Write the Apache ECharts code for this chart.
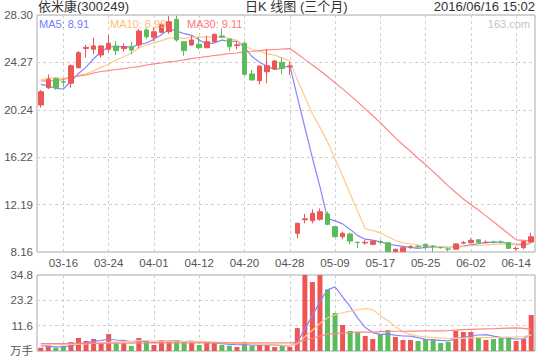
<!DOCTYPE html>
<html><head><meta charset="utf-8">
<script src="https://cdn.jsdelivr.net/npm/echarts@6/dist/echarts.min.js"></script>
<style>html,body{margin:0;padding:0;background:#fff}#c{width:540px;height:360px}</style>
</head><body><div id="c"></div><script>
const headerLeft = '依米康(300249)';
const headerMid = '日K 线图 (三个月)';
const headerRight = '2016/06/16 15:02';
const watermark = '163.com';
const maNames = ['MA5', 'MA10', 'MA30'];
const maLast = ['8.91', '8.99', '9.11'];
const volUnit = '万手';

const dates = ['03-11','03-14','03-15','03-16','03-17','03-18','03-21','03-22','03-23','03-24','03-25','03-28','03-29','03-30','03-31','04-01','04-05','04-06','04-07','04-08','04-11','04-12','04-13','04-14','04-15','04-18','04-19','04-20','04-21','04-22','04-25','04-26','04-27','04-28','04-29','05-03','05-04','05-05','05-06','05-09','05-10','05-11','05-12','05-13','05-16','05-17','05-18','05-19','05-20','05-23','05-24','05-25','05-26','05-27','05-30','05-31','06-01','06-02','06-03','06-06','06-07','06-08','06-13','06-14','06-15','06-16'];

// [open, close, low, high]
const candles = [
[20.65,21.78,20.42,21.93],[22.12,22.84,22.01,23.26],[22.88,22.12,21.93,22.97],[22.63,22.60,22.20,22.90],
[22.50,23.99,22.12,24.11],[23.82,25.10,23.77,25.24],[25.45,25.55,24.67,25.75],[25.39,25.67,24.96,26.37],
[24.90,25.67,24.67,25.70],[25.39,25.90,25.18,26.60],[25.67,25.27,24.90,26.09],[25.44,25.60,25.18,25.90],
[25.61,25.33,24.96,26.03],[25.75,26.94,25.47,27.11],[27.03,26.46,26.26,27.17],[26.40,26.88,26.09,27.22],
[26.83,27.51,26.74,27.73],[26.88,27.73,26.70,28.21],[27.93,26.18,26.03,28.25],[26.03,25.27,24.84,26.03],
[25.75,26.18,25.69,26.52],[25.81,25.52,25.35,26.46],[25.52,26.03,25.47,26.52],[26.03,26.66,25.92,26.66],
[26.52,26.42,26.32,27.17],[26.26,25.61,25.24,26.26],[25.70,25.77,25.39,26.09],[25.90,23.26,23.15,26.03],
[23.29,22.78,22.75,23.63],[22.72,23.97,22.41,23.97],[23.48,23.99,22.50,25.39],[23.71,24.39,23.63,24.48],
[24.28,23.77,23.26,24.70],[23.88,23.95,23.20,24.33],[9.75,10.60,9.32,10.65],[10.90,10.98,10.60,11.39],
[10.82,11.45,10.60,11.79],[10.94,11.58,10.82,11.87],[11.39,10.51,10.45,11.58],[10.31,9.46,9.41,10.31],
[9.46,9.75,9.24,9.89],[9.69,9.09,8.84,9.80],[8.99,8.96,8.47,8.99],[8.93,8.98,8.76,9.18],
[8.81,9.09,8.73,9.18],[9.05,9.00,8.84,9.18],[8.95,8.19,8.17,8.95],[8.19,8.39,8.17,8.45],
[8.19,8.53,8.17,8.58],[8.58,8.62,8.41,8.75],[8.64,8.60,8.45,8.78],[8.81,8.61,8.39,8.90],
[8.64,8.62,8.17,8.75],[8.55,8.52,8.45,8.60],[8.42,8.40,8.19,8.53],[8.40,8.85,8.38,8.88],
[8.92,8.95,8.81,9.09],[8.95,9.15,8.90,9.32],[9.20,8.95,8.92,9.25],[8.95,8.98,8.90,9.15],
[9.00,8.98,8.88,9.12],[9.00,8.98,8.88,9.15],[8.96,8.47,8.45,9.00],[8.45,8.47,8.28,8.62],
[8.53,9.05,8.39,9.10],[9.00,9.45,8.95,9.80]];

const ma5 = [22.41,22.27,22.07,22.01,22.67,23.33,23.87,24.58,25.20,25.58,25.61,25.62,25.55,25.81,25.92,26.24,26.62,27.10,26.95,26.71,26.57,26.18,25.84,25.93,26.16,26.05,26.10,25.54,24.77,24.28,23.95,23.68,23.78,24.01,21.34,18.74,16.15,13.71,11.02,10.80,10.55,10.08,9.55,9.25,9.17,9.02,8.84,8.73,8.64,8.55,8.47,8.55,8.60,8.59,8.55,8.60,8.67,8.77,8.86,8.98,9.00,9.01,8.87,8.78,8.79,8.88];
const ma10 = [22.78,22.92,22.97,22.92,22.97,23.15,23.30,23.55,23.85,24.12,24.47,24.75,25.07,25.50,25.75,25.93,26.12,26.33,26.38,26.32,26.41,26.40,26.47,26.44,26.44,26.31,26.14,25.69,25.35,25.22,25.00,24.89,24.66,24.39,22.81,21.35,19.91,18.75,17.52,16.07,14.64,13.11,11.63,10.14,9.99,9.79,9.46,9.14,8.94,8.86,8.75,8.70,8.66,8.62,8.55,8.53,8.61,8.69,8.73,8.76,8.80,8.84,8.82,8.82,8.88,8.94];
const ma30 = [22.69,22.71,22.73,22.82,22.99,23.12,23.20,23.37,23.50,23.58,23.67,23.75,23.84,23.92,24.05,24.14,24.22,24.31,24.39,24.48,24.60,24.69,24.77,24.86,24.94,25.03,25.07,25.16,25.20,25.28,25.33,25.37,25.41,25.45,25.00,24.53,24.06,23.59,23.08,22.54,22.02,21.47,20.92,20.32,19.74,19.15,18.50,17.86,17.27,16.72,16.13,15.57,14.99,14.38,13.78,13.22,12.66,12.19,11.73,11.23,10.73,10.22,9.71,9.19,9.14,9.09];

const volume = [1.5,2.4,1.5,2.4,4.1,5.95,4.58,5.5,3.66,7.78,3.66,3.66,2.29,5.95,5.04,2.75,5.04,4.58,5.04,4.12,4.12,2.75,3.66,3.66,2.75,2.4,1.83,4.12,2.4,2.75,2.75,1.83,2.3,1.83,10.5,34.8,31.6,34.8,28.2,17.4,11.9,9.16,8.7,6.87,5.5,7.78,9.6,6.4,5.04,5.04,4.58,5.5,5.5,3.66,4.12,9.16,8.7,8.7,5.95,5.04,5.5,5.95,6.41,4.58,5.5,16.5];
const volMa5 = [2.4,2.2,1.9,1.9,2.38,3.27,3.71,4.51,4.76,5.49,5.04,4.85,4.21,4.67,4.12,3.94,4.21,4.67,4.49,4.31,4.58,4.12,3.94,3.66,3.39,3.04,2.86,2.95,2.70,2.70,2.77,2.77,2.41,2.29,3.84,10.25,16.21,22.71,27.98,29.36,24.78,20.29,15.07,10.81,8.43,7.60,7.69,7.23,6.86,6.77,6.13,5.31,5.13,4.86,4.67,5.59,6.23,6.87,7.33,7.51,6.78,6.23,5.77,5.50,5.59,7.79];
const volMa10 = [3.2,3.2,3.1,3.0,3.0,3.1,3.3,3.5,3.7,3.94,4.15,4.28,4.36,4.71,4.81,4.49,4.53,4.44,4.58,4.21,4.26,4.17,4.31,4.08,3.85,3.81,3.49,3.45,3.18,3.04,2.91,2.82,2.68,2.50,3.27,6.51,9.49,12.56,15.14,16.60,17.52,18.25,18.89,19.39,18.89,16.19,13.99,11.15,8.84,7.60,6.87,6.50,6.18,5.86,5.72,5.86,5.77,6.00,6.09,6.09,6.18,6.23,6.32,6.41,6.55,7.28];
const volMa30 = [3.40,3.40,3.42,3.42,3.45,3.48,3.50,3.52,3.55,3.58,3.60,3.62,3.62,3.65,3.66,3.66,3.68,3.70,3.70,3.72,3.72,3.73,3.73,3.74,3.74,3.74,3.73,3.74,3.72,3.73,3.77,3.75,3.78,3.76,3.98,4.94,5.84,6.81,7.63,7.95,8.23,8.41,8.62,8.66,8.67,8.84,8.99,9.05,9.05,9.08,9.10,9.19,9.25,9.25,9.30,9.52,9.75,9.90,10.02,10.10,10.19,10.33,10.46,10.55,10.39,9.78];

const priceTicks = [8.16, 28.30];
const volTicks = [0, 34.8];

const UP = '#ee5555', DOWN = '#5cbc5c';
const C_MA5 = '#8585ff', C_MA10 = '#ffc98a', C_MA30 = '#ff8585';
const FONT = '"Liberation Sans", Arial, "Noto Sans CJK SC", sans-serif';
const isLabel = (i) => i >= 3 && (i - 3) % 6 === 0;
const dash = { color: '#cfcfcf', type: [3, 3], width: 1 };

const chart = echarts.init(document.getElementById('c'), null, { renderer: 'svg', width: 540, height: 360 });

const volData = volume.map((v, i) => ({
  value: v,
  itemStyle: { color: candles[i][1] >= candles[i][0] ? UP : DOWN }
}));

const lineS = (name, data, color, xi) => ({
  name, type: 'line', data, xAxisIndex: xi, yAxisIndex: xi,
  symbol: 'none', smooth: false, z: 3,
  lineStyle: { color, width: 1.2 }, silent: true
});

const hdr = { fontSize: 13, fontWeight: 'normal', color: '#333', fontFamily: FONT };

chart.setOption({
  animation: false,
  backgroundColor: '#fff',
  textStyle: { fontFamily: FONT },
  title: [
    { text: headerLeft, left: 38, top: 0, padding: 0, textStyle: hdr },
    { text: headerMid, left: 245, top: 0, padding: 0, textStyle: hdr },
    { text: headerRight, right: 5, top: 0, padding: 0, textStyle: hdr },
    { text: maNames[0] + ': ' + maLast[0], left: 39, top: 18, padding: 0, textStyle: { fontSize: 11, fontWeight: 'normal', color: '#7a7aff', fontFamily: FONT } },
    { text: maNames[1] + ': ' + maLast[1], left: 110, top: 18, padding: 0, textStyle: { fontSize: 11, fontWeight: 'normal', color: '#ffbe78', fontFamily: FONT } },
    { text: maNames[2] + ': ' + maLast[2], left: 187, top: 18, padding: 0, textStyle: { fontSize: 11, fontWeight: 'normal', color: '#ff7777', fontFamily: FONT } },
    { text: watermark, right: 10, top: 18, padding: 0, textStyle: { fontSize: 11, fontWeight: 'normal', color: '#c4c4c4', fontFamily: FONT } }
  ],
  grid: [
    { left: 37, right: 5, top: 15, height: 237, show: true, borderColor: '#aaa', borderWidth: 1, backgroundColor: 'transparent' },
    { left: 37, right: 5, top: 275, height: 76, show: true, borderColor: '#aaa', borderWidth: 1, backgroundColor: 'transparent' }
  ],
  xAxis: [
    { type: 'category', gridIndex: 0, data: dates, boundaryGap: true,
      axisLine: { show: false }, axisTick: { show: false },
      axisLabel: { interval: (i) => isLabel(i), color: '#555', fontSize: 11.5, margin: 5, fontFamily: FONT },
      splitLine: { show: true, interval: (i) => isLabel(i), alignWithLabel: true, lineStyle: dash } },
    { type: 'category', gridIndex: 1, data: dates, boundaryGap: true,
      axisLine: { show: false }, axisTick: { show: false }, axisLabel: { show: false },
      splitLine: { show: true, interval: (i) => isLabel(i), alignWithLabel: true, lineStyle: dash } }
  ],
  yAxis: [
    { type: 'value', gridIndex: 0, min: priceTicks[0], max: priceTicks[1], interval: (priceTicks[1] - priceTicks[0]) / 5,
      axisLine: { show: false }, axisTick: { show: false },
      axisLabel: { color: '#555', fontSize: 11.5, margin: 4, fontFamily: FONT, formatter: (v) => v.toFixed(2) },
      splitLine: { show: true, showMinLine: false, showMaxLine: false, lineStyle: dash } },
    { type: 'value', gridIndex: 1, min: volTicks[0], max: volTicks[1], interval: (volTicks[1] - volTicks[0]) / 3,
      axisLine: { show: false }, axisTick: { show: false },
      axisLabel: { color: '#555', fontSize: 11.5, margin: 4, fontFamily: FONT, formatter: (v) => v === 0 ? volUnit : v.toFixed(1) },
      splitLine: { show: true, showMinLine: false, showMaxLine: false, lineStyle: dash } }
  ],
  series: [
    lineS(maNames[0], ma5, C_MA5, 0),
    lineS(maNames[1], ma10, C_MA10, 0),
    lineS(maNames[2], ma30, C_MA30, 0),
    { name: 'K', type: 'candlestick', xAxisIndex: 0, yAxisIndex: 0, data: candles, barWidth: 5, z: 4,
      itemStyle: { color: UP, color0: DOWN, borderColor: UP, borderColor0: DOWN, borderWidth: 1 } },
    { name: 'VOL', type: 'bar', xAxisIndex: 1, yAxisIndex: 1, data: volData, barWidth: 5, z: 2 },
    lineS('VMA5', volMa5, C_MA5, 1),
    lineS('VMA10', volMa10, C_MA10, 1),
    lineS('VMA30', volMa30, C_MA30, 1)
  ]
});
</script></body></html>
